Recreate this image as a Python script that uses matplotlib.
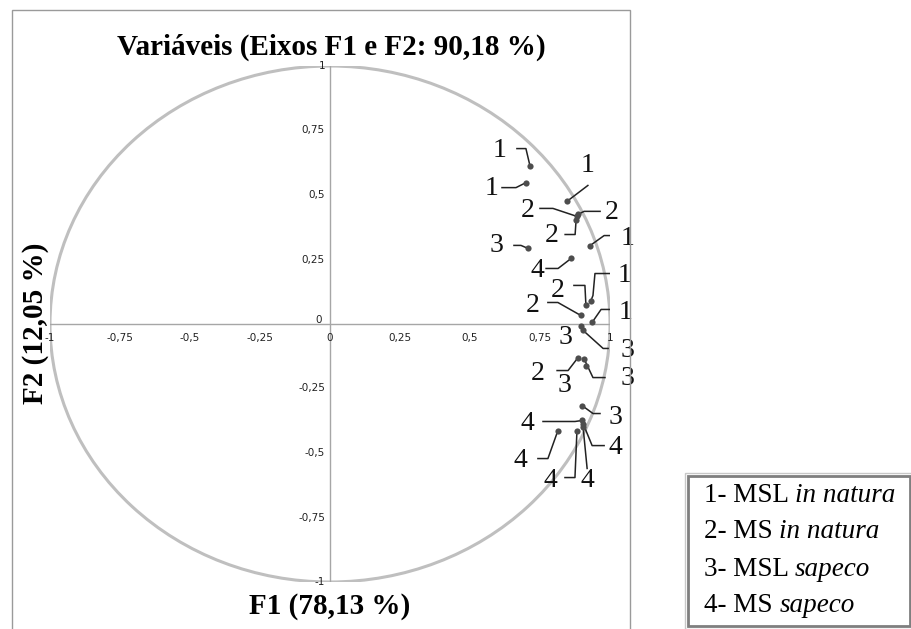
import matplotlib.pyplot as plt
from matplotlib.patches import Ellipse, Rectangle
import numpy as np

# Correlation circle data (F1, F2) per group
groups = ['1', '2', '3', '4']
legend_prefix = ['1- MSL ', '2- MS ', '3- MSL ', '4- MS ']
legend_italic = ['in natura', 'in natura', 'sapeco', 'sapeco']

f1_g1 = [0.714, 0.700, 0.846, 0.929, 0.932, 0.936]
f2_g1 = [0.614, 0.548, 0.475, 0.304, 0.091, 0.006]
f1_g2 = [0.882, 0.886, 0.879, 0.914, 0.896, 0.886]
f2_g2 = [0.417, 0.425, 0.405, 0.072, 0.033, -0.130]
f1_g3 = [0.707, 0.896, 0.904, 0.907, 0.914, 0.900]
f2_g3 = [0.293, -0.006, -0.025, -0.134, -0.161, -0.316]
f1_g4 = [0.861, 0.900, 0.814, 0.882, 0.904, 0.904]
f2_g4 = [0.254, -0.374, -0.413, -0.413, -0.386, -0.401]

tick_vals = [-1, -0.75, -0.5, -0.25, 0, 0.25, 0.5, 0.75, 1]
tick_text = ['-1', '-0,75', '-0,5', '-0,25', '0', '0,25', '0,5', '0,75', '1']

# label layout: (label dx, label dy, leader path) in pixels relative to point
# leader path points relative to the point; None = no leader line
layout = {
    '1': [((-30, 15), [(-13, 17), (-4, 17)]),
          ((-34, -6), [(-24, -5), (-10, -5)]),
          ((21, 36), [(21, 16)]),
          ((37, 7), [(27, 10), (14, 10)]),
          ((34, 25), [(22, 27), (4, 27), (2, 5)]),
          ((33, 10), [(21, 13), (9, 13)])],
    '2': [((-49, 6), [(-37, 8), (-24, 8)]),
          ((34, 2), [(22, 3), (6, 3)]),
          ((-24, -16), [(-11, -15), (-1, -15)]),
          ((-28, 15), [(-12, 20), (-1, 20)]),
          ((-48, 10), [(-33, 13), (-23, 13)]),
          ((-40, -16), [(-21, -13), (-10, -13)])],
    '3': [((-31, 3), [(-14, 3), (-7, 3)]),
          ((-15, -12), None),
          ((44, -20), [(25, -18), (20, -18)]),
          ((44, -20), [(21, -19), (9, -19)]),
          ((-21, -20), None),
          ((33, -12), [(18, -8), (11, -8)])],
    '4': [((-34, -12), [(-25, -10), (-13, -10)]),
          ((-55, -3), [(-39, -1), (-7, -1)]),
          ((-38, -30), [(-20, -28), (-10, -28)]),
          ((-27, -50), [(-12, -47), (-2, -47)]),
          ((32, -24), [(21, -22), (9, -22)]),
          ((4, -53), [(4, -41)])],
}

W, H = 912, 629
fig = plt.figure(figsize=(W / 100, H / 100), dpi=100)
fig.patch.set_facecolor('white')

# axes: data -1..1 maps to px 50..610 (x) and 582..66 (y from top)
ax = fig.add_axes([50 / W, (H - 582) / H, 560 / W, 516 / H])
ax.set_xlim(-1, 1)
ax.set_ylim(-1, 1)
ax.axis('off')
sx = 560 / 2.0   # px per unit
sy = 516 / 2.0

# outer frame of the chart
fig.add_artist(Rectangle((12 / W, -0.01), (630 - 12) / W, (H - 10) / H + 0.01,
                         transform=fig.transFigure, fill=False,
                         edgecolor='#9a9a9a', linewidth=1.0))

serif = 'Liberation Serif'
grey = '#a6a6a6'

circle = Ellipse((0, 0), 2, 2, fill=False, edgecolor='#bfbfbf', linewidth=2.2, zorder=1)
ax.add_patch(circle)
ax.plot([-1, 1], [0, 0], color=grey, linewidth=1.0, zorder=1)
ax.plot([0, 0], [-1, 1], color=grey, linewidth=1.0, zorder=1)

for v, t in zip(tick_vals, tick_text):
    if v == 0:
        ax.text(-8 / sx, 4 / sy, t, ha='right', va='center', fontsize=7.5, family='DejaVu Sans', color='#222222')
        ax.text(0, -14 / sy, t, ha='center', va='center', fontsize=7.5, family='DejaVu Sans', color='#222222')
        continue
    ax.text(v, -14 / sy, t, ha='center', va='center', fontsize=7.5, family='DejaVu Sans', color='#222222')
    ax.text(-5 / sx, v, t, ha='right', va='center', fontsize=7.5, family='DejaVu Sans', color='#222222')

series = {
    '1': (f1_g1, f2_g1),
    '2': (f1_g2, f2_g2),
    '3': (f1_g3, f2_g3),
    '4': (f1_g4, f2_g4),
}

for g in groups:
    xs, ys = series[g]
    ax.scatter(xs, ys, s=20, color='#4d4d4d', zorder=4, linewidths=0)
    for (x, y), (lab, path) in zip(zip(xs, ys), layout[g]):
        ax.text(x + lab[0] / sx, y + lab[1] / sy, g, ha='center', va='center',
                fontsize=20, family=serif, color='#111111', zorder=5)
        if path is not None:
            px = [x + p[0] / sx for p in path] + [x]
            py = [y + p[1] / sy for p in path] + [y]
            ax.plot(px, py, color='#222222', linewidth=1.1, zorder=3)

fig.text(331 / W, 1 - 47 / H, 'Variáveis (Eixos F1 e F2: 90,18 %)', ha='center', va='center',
         fontsize=21, fontweight='bold', family=serif)
fig.text(330 / W, 1 - 606 / H, 'F1 (78,13 %)', ha='center', va='center',
         fontsize=21, fontweight='bold', family=serif)
fig.text(36 / W, 1 - 323 / H, 'F2 (12,05 %)', ha='center', va='center', rotation=90,
         fontsize=21, fontweight='bold', family=serif)

# legend box (light outer line + darker inner line)
bx0, bx1, by0, by1 = 688, 910, 476, 626
fig.add_artist(Rectangle(((bx0 - 3) / W, 1 - (by1 + 3) / H), (bx1 - bx0 + 6) / W, (by1 - by0 + 6) / H,
                         transform=fig.transFigure, fill=False,
                         edgecolor='#c8c8c8', linewidth=1.0))
fig.add_artist(Rectangle((bx0 / W, 1 - by1 / H), (bx1 - bx0) / W, (by1 - by0) / H,
                         transform=fig.transFigure, fill=False,
                         edgecolor='#7f7f7f', linewidth=2.0))
line_y = [495, 532, 569, 606]
for pre, it, ly in zip(legend_prefix, legend_italic, line_y):
    t = fig.text(704 / W, 1 - ly / H, pre, ha='left', va='center', fontsize=19.5, family=serif)
    fig.canvas.draw()
    bb = t.get_window_extent()
    fig.text(bb.x1 / W, 1 - ly / H, it, ha='left', va='center', fontsize=19.5,
             family=serif, style='italic')

fig.savefig('out.png', dpi=100, facecolor='white')
